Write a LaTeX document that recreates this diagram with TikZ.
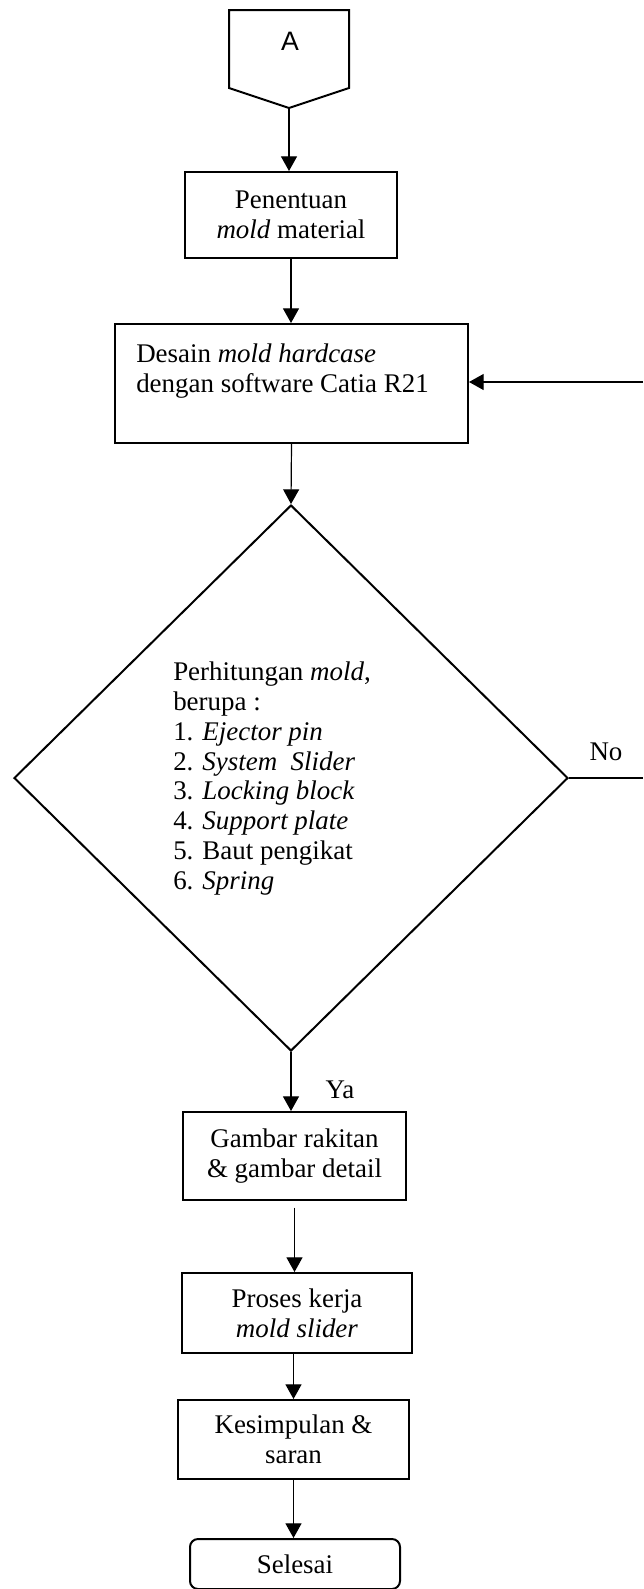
\documentclass[tikz,border=0pt]{standalone}
\usepackage{fontspec}
\setmainfont{Liberation Serif}
\newfontfamily\arialfont{Liberation Sans}
\usetikzlibrary{arrows.meta,shapes.geometric}
\newcommand\ukuranteks{\fontsize{20.2}{22.3}\selectfont}

\begin{document}
\begin{tikzpicture}[x=0.75pt, y=-0.75pt,
  kotak/.style={draw, line width=1.5pt, align=center, inner sep=0pt, font=\ukuranteks},
  teksbebas/.style={anchor=north west, align=left, inner sep=0pt, font=\ukuranteks},
  alur/.style={line width=0.9pt, -{Triangle[length=11pt,width=12pt]}},
  garis/.style={line width=0.9pt}]
% Coordinates are pixels of the page (643 x 1589), y going down
\useasboundingbox (0,0) rectangle (643,1589);

% Off-page connector A
\draw[line width=1.5pt] (229,10) -- (349,10) -- (349,88) -- (289,108) -- (229,88) -- cycle;
\coordinate (ujungA) at (289,108);
\node[font=\arialfont\fontsize{20}{24}\selectfont] (konektorA) at (290,41) {A};

% Process boxes
\node[kotak, minimum width=159pt, minimum height=64.5pt] (material) at (291,215) {Penentuan\\\textit{mold} material};
\node[kotak, minimum width=264.75pt, minimum height=89.25pt] (desain) at (291.5,383.5) {};
\node[teksbebas] (desaintxt) at (136,344) {Desain \textit{mold hardcase}\\dengan software Catia R21};

% Decision
\node[draw, diamond, line width=1.5pt, inner sep=0pt, minimum width=415.5pt, minimum height=409.5pt] (hitung) at (291,778) {};
\node[teksbebas] (hitungtxt) at (173,662) {Perhitungan \textit{mold},\\berupa :\\1. \textit{Ejector pin}\\2. \textit{System~~Slider}\\3. \textit{Locking block}\\4. \textit{Support plate}\\5. Baut pengikat\\6. \textit{Spring}};

\node[kotak, minimum width=167.25pt, minimum height=66pt] (gambar) at (294.5,1156) {Gambar rakitan\\\& gambar detail};
\node[kotak, minimum width=172.5pt, minimum height=60pt] (proses) at (297,1313) {Proses kerja\\\textit{mold slider}};
\node[kotak, minimum width=173.25pt, minimum height=59.25pt] (simpulan) at (293.5,1439.5) {Kesimpulan \&\\saran};
\node[kotak, rounded corners=6pt, minimum width=157.5pt, minimum height=37.5pt] (selesai) at (295,1564) {Selesai};

% Connectors
\draw[alur] (ujungA) -- (ujungA |- material.north);
\draw[alur] (material.south) -- (material.south |- desain.north);
\draw[alur] (desain.south) -- (hitung.north);
\draw[alur] (hitung.south) -- (hitung.south |- gambar.north);
\draw[alur, shorten <=5pt] (gambar.south) -- (gambar.south |- proses.north);
\draw[alur] (simpulan.north |- proses.south) -- (simpulan.north);
\draw[alur] (simpulan.south) -- (simpulan.south |- selesai.north);

% Loop back (runs off the right edge)
\coordinate (tepiNo) at (643,778);
\coordinate (tepiBalik) at (643,382);
\draw[garis] (hitung.east) -- (tepiNo);
\draw[alur] (tepiBalik) -- (desain.east |- tepiBalik);

\node[font=\ukuranteks] (labelNo) at (606,752) {No};
\node[font=\ukuranteks] (labelYa) at (340,1090) {Ya};
\end{tikzpicture}
\end{document}
